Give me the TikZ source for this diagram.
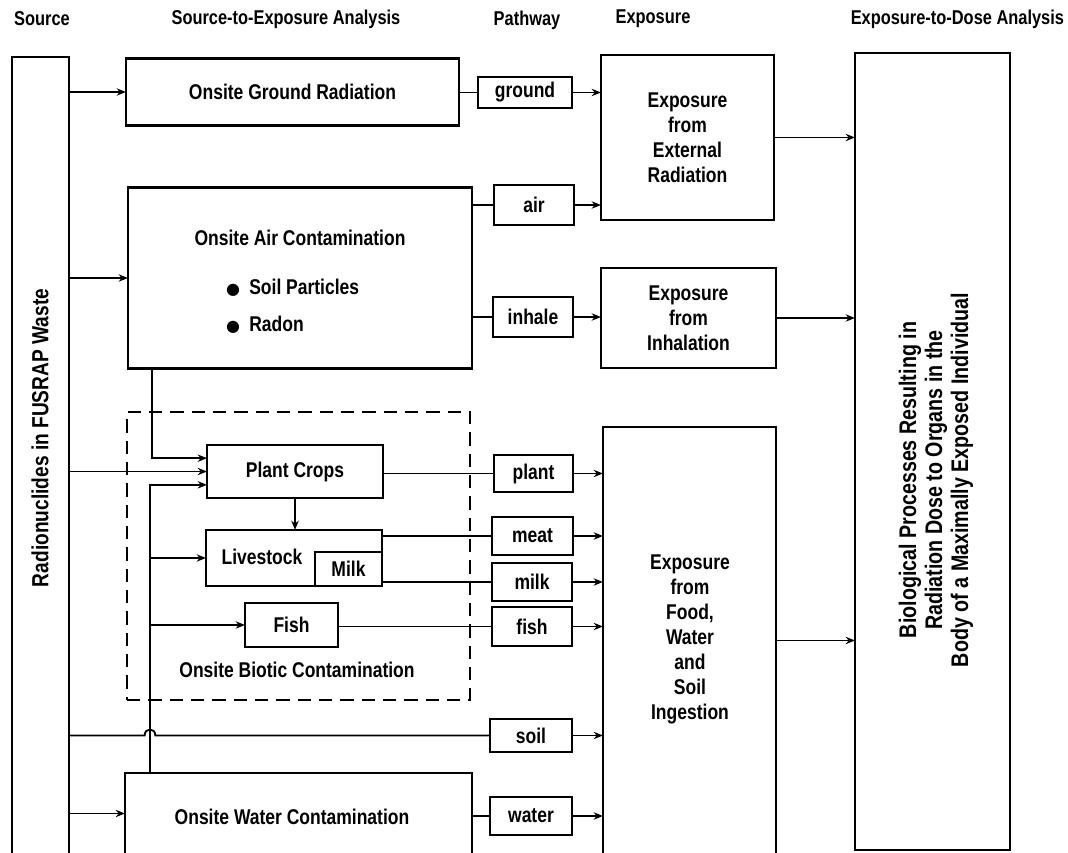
\documentclass[tikz,border=0pt]{standalone}
\usepackage{fontspec}
\setmainfont{Liberation Sans}[FakeStretch=0.82]
\newfontfamily\dejavu{DejaVu Sans}
\usetikzlibrary{arrows.meta}
\begin{document}
\begin{tikzpicture}[x=0.75pt,y=-0.75pt,
  every node/.style={font=\bfseries\fontsize{16}{18.75}\selectfont, inner sep=0pt, outer sep=0pt},
  hdr/.style={font=\bfseries\fontsize{15}{18}\selectfont},
  box/.style={draw, line width=1.7pt},
  pbox/.style={draw, line width=1.5pt},
  wh/.style 2 args={minimum width=#1*0.75pt, minimum height=#2*0.75pt},
  ln/.style={line width=1.4pt},
  arr/.style={ln, -{Stealth[length=7pt,width=5.5pt]}},
  dashbox/.style={draw, line width=1.5pt, dash pattern=on 10pt off 6pt},
  txt/.style={align=center}]
\useasboundingbox (0,0) rectangle (1068,853);

% headers
\node[hdr] (hsrc) at (42,19) {Source};
\node[hdr] (hsea) at (286,19) {Source-to-Exposure Analysis};
\node[hdr] (hpath) at (527,20) {Pathway};
\node[hdr] (hexp) at (653,19) {Exposure};
\node[hdr, anchor=east] (hdose) at (1064,19) {Exposure-to-Dose Analysis};

% source
\node[wh={57}{797}] (src) at (40.5,455.5) {};
\draw[box] (src.south west) -- (src.north west) -- (src.north east) -- (src.south east);
\node[rotate=90, font=\bfseries\fontsize{17.5}{20}\selectfont] (srctxt) at (40,438) {Radionuclides in FUSRAP Waste};

% source-to-exposure boxes
\node[box, wh={333}{67}] (ground) at (292.5,92) {Onsite Ground Radiation};
\node[box, wh={344}{181}] (air) at (300,278) {};
\node (airt) at (300,238) {Onsite Air Contamination};
\node[anchor=west] (b1) at (226,288) {{\dejavu\fontsize{12}{12}\selectfont ●}\hspace{7pt}Soil Particles};
\node[anchor=west] (b2) at (226,325) {{\dejavu\fontsize{12}{12}\selectfont ●}\hspace{7pt}Radon};

\node[dashbox, wh={343}{288}] (biotic) at (298.5,556) {};
\node (biotict) at (297,670) {Onsite Biotic Contamination};
\node[box, wh={176}{53}] (plant) at (295,471.5) {Plant Crops};
\node[box, wh={176}{56}] (live) at (294,558) {};
\node (livet) at (262,557) {Livestock};
\node[box, wh={67}{34}] (milk) at (348.5,569) {Milk};
\node[box, wh={93}{44}] (fish) at (291.5,625) {Fish};

\node[wh={347}{81}] (water) at (298.5,813.5) {};
\draw[box] (water.south west) |- (water.north east) -- (water.south east);
\node (watert) at (292,817) {Onsite Water Contamination};

% pathway boxes
\node[pbox, wh={94}{31}] (pground) at (525,92.5) {ground};
\node[pbox, wh={80}{40}] (pair) at (534,205) {air};
\node[pbox, wh={80}{40}] (pinh) at (533,317) {inhale};
\node[pbox, wh={79}{37}] (pplant) at (533.5,473.5) {plant};
\node[pbox, wh={81}{38}] (pmeat) at (532.5,536) {meat};
\node[pbox, wh={80}{38}] (pmilk) at (532,582) {milk};
\node[pbox, wh={80}{39}] (pfish) at (532,626.5) {fish};
\node[pbox, wh={82}{33}] (psoil) at (531,735.5) {soil};
\node[pbox, wh={82}{38}] (pwater) at (531,816) {water};

% exposure boxes
\node[box, wh={173}{165}, txt] (extE) at (687.5,137.5) {Exposure\\from\\External\\Radiation};
\node[box, wh={175}{100}, txt] (inh) at (688.5,318) {Exposure\\from\\Inhalation};
\node[wh={173}{427}] (ing) at (689.5,640.5) {};
\draw[box] (ing.south west) |- (ing.north east) -- (ing.south east);
\node[txt] (ingt) at (690,639) {Exposure\\from\\Food,\\Water\\and\\Soil\\Ingestion};

% dose box
\node[box, wh={155}{797}] (bio) at (932.5,451.5) {};
\node[rotate=90, txt, font=\bfseries\fontsize{18}{19.5}\selectfont] (biot) at (936,480) {Biological Processes Resulting in\\Radiation Dose to Organs in the\\Body of a Maximally Exposed Individual};

% taps
\coordinate (tapA) at (152,0);
\coordinate (tapW) at (150,0);

% source arrows
\draw[arr] (src.east |- ground.west) -- (ground.west);
\draw[arr] (src.east |- air.west) -- (air.west);
\draw[arr] (src.east |- plant.west) -- (plant.west);
\draw[ln] (src.east |- psoil.west) -- ([xshift=-4pt]tapW |- psoil.west)
  .. controls +(0,6pt) and +(0,6pt) .. ([xshift=4pt]tapW |- psoil.west) -- (psoil.west);
\draw[arr] (src.east |- water.west) -- (water.west);

% internal links
\draw[arr] (tapA |- air.south) |- ([yshift=10pt]plant.west);
\draw[arr] (tapW |- water.north) |- ([yshift=-10pt]plant.west);
\draw[arr] (tapW |- live.west) -- (live.west);
\draw[arr] (tapW |- fish.west) -- (fish.west);
\draw[arr] (plant.south) -- (plant.south |- live.north);

% to pathways
\draw[ln] (ground.east |- pground.west) -- (pground.west);
\draw[ln] (air.east |- pair.west) -- (pair.west);
\draw[ln] (air.east |- pinh.west) -- (pinh.west);
\draw[ln] (plant.east |- pplant.west) -- (pplant.west);
\draw[ln] (live.east |- pmeat.west) -- (pmeat.west);
\draw[ln] (milk.east |- pmilk.west) -- (pmilk.west);
\draw[ln] (fish.east |- pfish.west) -- (pfish.west);
\draw[ln] (water.east |- pwater.west) -- (pwater.west);

% to exposures
\draw[arr] (pground.east) -- (pground.east -| extE.west);
\draw[arr] (pair.east) -- (pair.east -| extE.west);
\draw[arr] (pinh.east) -- (pinh.east -| inh.west);
\draw[arr] (pplant.east) -- (pplant.east -| ing.west);
\draw[arr] (pmeat.east) -- (pmeat.east -| ing.west);
\draw[arr] (pmilk.east) -- (pmilk.east -| ing.west);
\draw[arr] (pfish.east) -- (pfish.east -| ing.west);
\draw[arr] (psoil.east) -- (psoil.east -| ing.west);
\draw[arr] (pwater.east) -- (pwater.east -| ing.west);

% to dose
\draw[arr] (extE.east) -- (extE.east -| bio.west);
\draw[arr] (inh.east) -- (inh.east -| bio.west);
\draw[arr] (ing.east) -- (ing.east -| bio.west);
\end{tikzpicture}
\end{document}
